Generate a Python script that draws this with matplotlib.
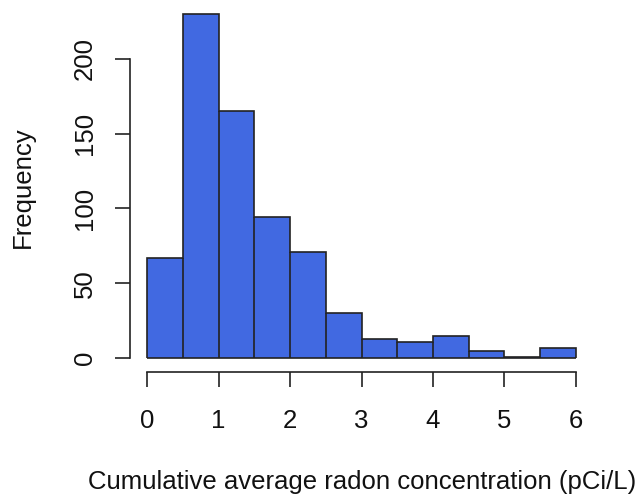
import numpy as np
import matplotlib.pyplot as plt

plt.rcParams['font.family'] = ['Liberation Sans', 'DejaVu Sans']

# histogram bins (pCi/L) and counts
bin_edges = [0, 0.5, 1, 1.5, 2, 2.5, 3, 3.5, 4, 4.5, 5, 5.5, 6]
counts = [67, 230, 165, 94, 71, 30, 13, 11, 15, 5, 1, 7]
xticks = [0, 1, 2, 3, 4, 5, 6]
yticks = [0, 50, 100, 150, 200]

fig = plt.figure(figsize=(6.4, 4.95), dpi=100)
ax = fig.add_axes([130 / 640, 1 - 372 / 495, 463 / 640, 372 / 495])

ax.stairs(counts, bin_edges, fill=True, color='royalblue')
ax.stairs(counts, bin_edges, fill=False, color='#222222', lw=1.2)
ax.vlines(bin_edges[1:-1], 0, np.minimum(counts[:-1], counts[1:]), color='#222222', lw=1.2)
ax.hlines(0, bin_edges[0], bin_edges[-1], color='#222222', lw=1.2)

ax.set_xlim(-0.24, 6.24)
ax.set_ylim(-0.04 * max(counts), 1.04 * max(counts))

for s in ['top', 'right']:
    ax.spines[s].set_visible(False)
ax.spines['left'].set_bounds(0, 200)
ax.spines['bottom'].set_bounds(0, 6)
for s in ['left', 'bottom']:
    ax.spines[s].set_linewidth(1.2)
    ax.spines[s].set_color('#222222')

ax.set_xticks(xticks)
ax.set_xticklabels([str(v) for v in xticks])
ax.set_yticks(yticks)
ax.set_yticklabels([str(v) for v in yticks], rotation=90, va='center')
ax.tick_params(axis='both', length=11, width=1.2, color='#222222', labelsize=18.5, labelcolor='#111111')
ax.tick_params(axis='x', pad=16)
ax.tick_params(axis='y', pad=13)

fig.text(362 / 640, 1 - 482 / 495, 'Cumulative average radon concentration (pCi/L)',
         ha='center', va='center', fontsize=18.5, color='#111111')
fig.text(23 / 640, 1 - 187 / 495, 'Frequency', rotation=90,
         ha='center', va='center', fontsize=18.5, color='#111111')

fig.savefig('out.png', dpi=100)
